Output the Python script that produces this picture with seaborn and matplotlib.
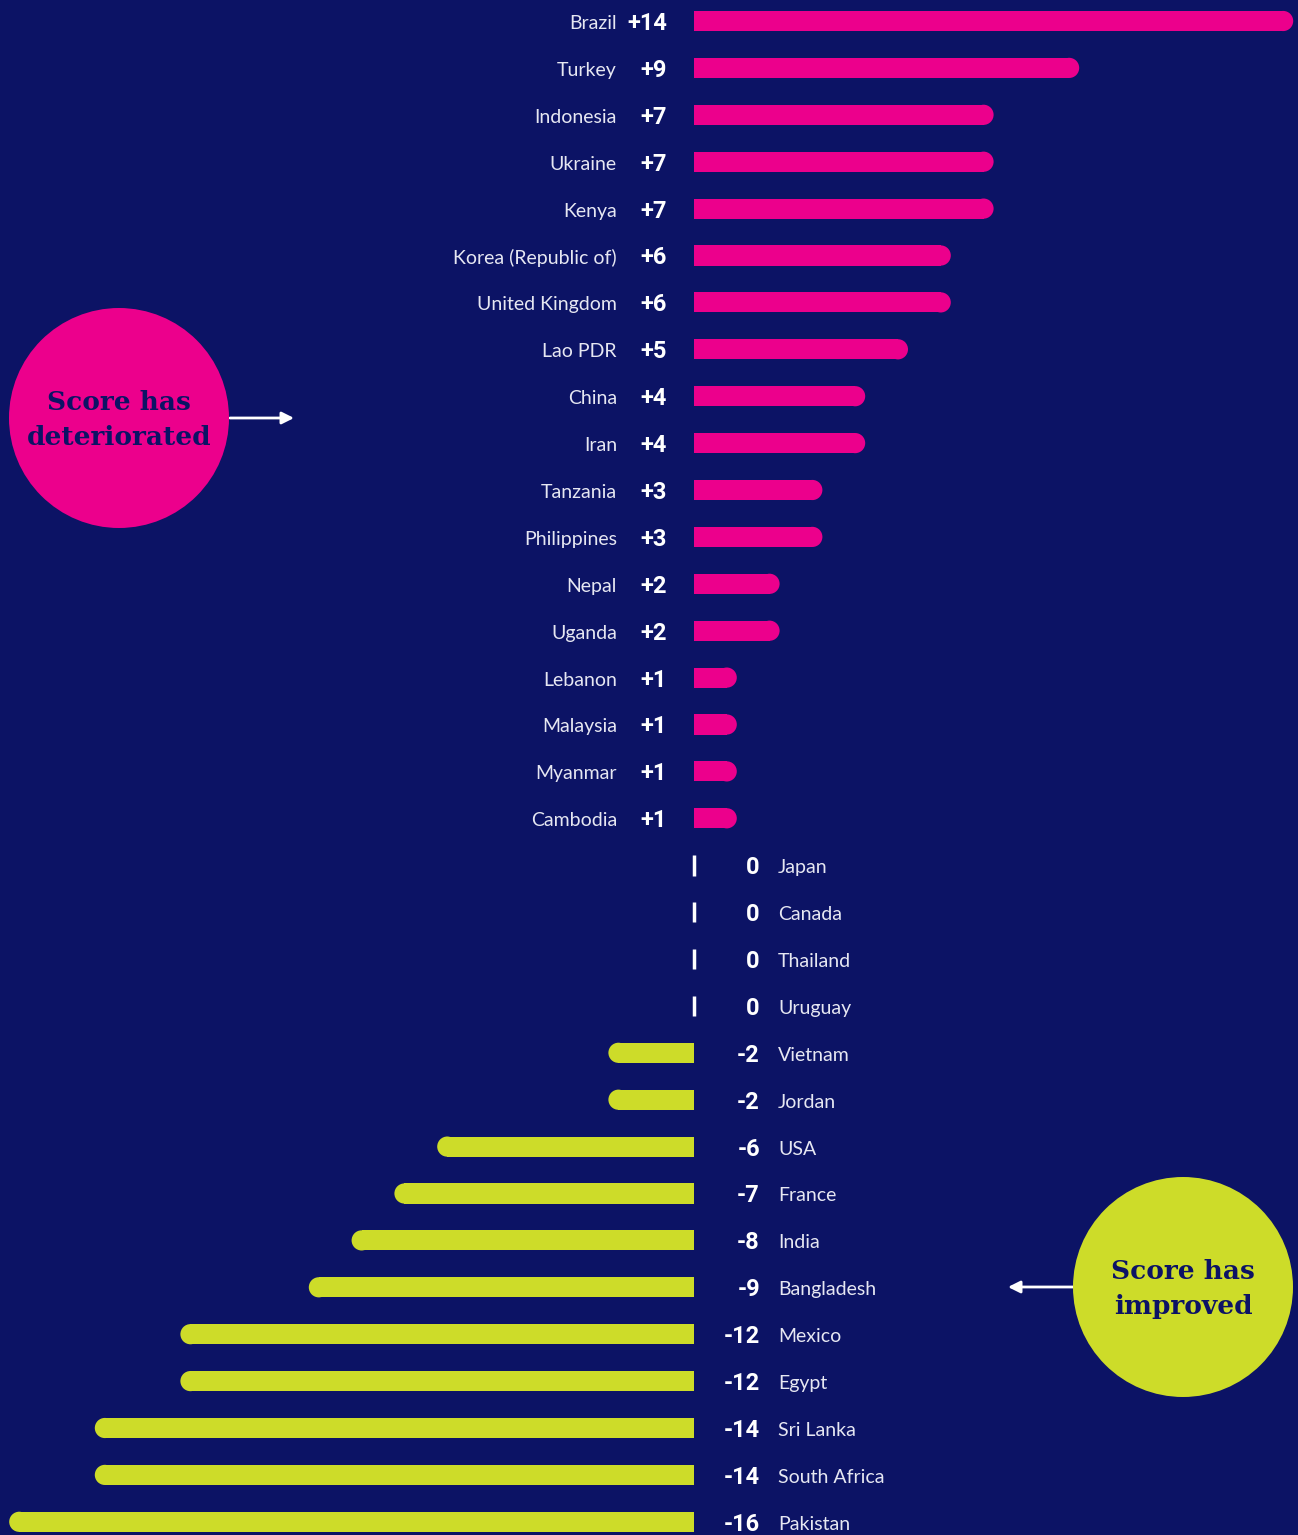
import matplotlib
matplotlib.use("Agg")
import numpy as np
import pandas as pd
import matplotlib.pyplot as plt
import seaborn as sns
from matplotlib.patches import Ellipse, Circle

countries = ["Brazil", "Turkey", "Indonesia", "Ukraine", "Kenya", "Korea (Republic of)",
             "United Kingdom", "Lao PDR", "China", "Iran", "Tanzania", "Philippines",
             "Nepal", "Uganda", "Lebanon", "Malaysia", "Myanmar", "Cambodia",
             "Japan", "Canada", "Thailand", "Uruguay", "Vietnam", "Jordan", "USA",
             "France", "India", "Bangladesh", "Mexico", "Egypt", "Sri Lanka",
             "South Africa", "Pakistan"]
changes = [14, 9, 7, 7, 7, 6, 6, 5, 4, 4, 3, 3, 2, 2, 1, 1, 1, 1,
           0, 0, 0, 0, -2, -2, -6, -7, -8, -9, -12, -12, -14, -14, -16]

BG = "#0c1365"
PINK = "#ec008c"
LIME = "#cddc29"
TXT = "#e6e7f2"

df = pd.DataFrame({"country": countries, "change": changes})
df["group"] = np.where(df["change"] > 0, "worse", np.where(df["change"] < 0, "better", "same"))

sns.set_theme(style="white")
plt.rcParams["font.family"] = ["Lato", "DejaVu Sans"]

fig = plt.figure(figsize=(12.98, 15.35), dpi=100, facecolor=BG)
ax = fig.add_axes([0, 0, 1, 1])
ax.set_facecolor(BG)

sns.barplot(data=df, x="change", y="country", hue="group", orient="h",
            palette={"worse": PINK, "better": LIME, "same": "white"},
            saturation=1, width=0.43, linewidth=0, dodge=False, legend=False, ax=ax)

# pixel scale: 1 unit = 42.8 px in x, one row = 46.9 px in y
ux, uy = 42.8, 46.9
ax.set_xlim(-694 / ux, 604 / ux)
ax.set_ylim((1535 - 21) / uy, -21 / uy)
ax.axis("off")

# round the far end of each bar
rx = 10 / ux
for p in list(ax.patches):
    w = p.get_width()
    if w == 0:
        continue
    s = np.sign(w)
    x0 = p.get_x()
    h = p.get_height()
    yc = p.get_y() + h / 2
    p.set_width(w - s * rx)
    ax.add_patch(Ellipse((x0 + w - s * rx, yc), 2 * rx, h,
                         facecolor=p.get_facecolor(), linewidth=0))

zero_rows = [i for i, v in enumerate(changes) if v == 0]
ax.vlines([0] * len(zero_rows), [i - 0.22 for i in zero_rows],
          [i + 0.22 for i in zero_rows], color="white", linewidth=2.5)

for i, (c, v) in enumerate(zip(countries, changes)):
    if v > 0:
        ax.text(-77 / ux, i + 0.02, c, ha="right", va="center_baseline",
                color=TXT, fontsize=14)
        ax.text(-27 / ux, i, f"+{v}", ha="right", va="center_baseline",
                color="white", fontsize=17, fontweight="bold", family="Roboto")
    else:
        ax.text(66 / ux, i, f"{v}", ha="right", va="center_baseline",
                color="white", fontsize=17, fontweight="bold", family="Roboto")
        ax.text(84 / ux, i + 0.02, c, ha="left", va="center_baseline",
                color=TXT, fontsize=14)

# annotation bubbles
H = 1535
for cx, cy, col, label, ax0, ax1 in [(119, 420, PINK, "Score has\ndeteriorated", 230, 294),
                                     (1183, 1289, LIME, "Score has\nimproved", 1073, 1008)]:
    fig.patches.append(Circle((cx / 100, (H - cy + 2) / 100), 1.10, transform=fig.dpi_scale_trans,
                              facecolor=col, edgecolor="none"))
    fig.text(cx / 1298, (H - cy) / H, label, ha="center", va="center", color=BG,
             fontsize=19, fontweight="bold", family="DejaVu Serif", linespacing=1.5)
    ax.annotate("", xy=(ax1, H - cy + 2), xytext=(ax0, H - cy + 2),
                xycoords="figure pixels", textcoords="figure pixels",
                arrowprops=dict(arrowstyle="-|>", color="white", lw=2,
                                mutation_scale=18, shrinkA=0, shrinkB=0))

fig.savefig("out.png", dpi=100, facecolor=BG)
